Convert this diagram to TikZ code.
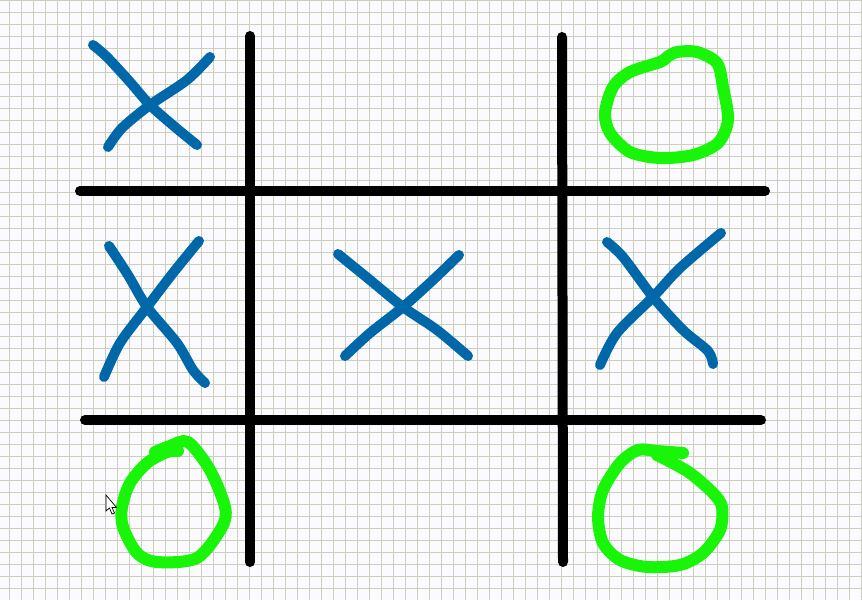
\documentclass[tikz,border=0pt]{standalone}
\definecolor{paperbg}{RGB}{251,251,255}
\definecolor{gridpurple}{RGB}{192,192,236}
\definecolor{gridyellow}{RGB}{214,214,160}
\definecolor{xblue}{RGB}{0,104,168}
\definecolor{ogreen}{RGB}{24,245,8}
\begin{document}
\begin{tikzpicture}[x=1pt,y=-1pt,
  gridA/.style={draw=gridpurple,line width=1pt},
  gridB/.style={draw=gridyellow,line width=1pt,dash pattern=on 1.5pt off 1.5pt},
  board/.style={draw=black,line width=10pt,line cap=round,line join=round},
  xmark/.style={draw=xblue,line width=10pt,line cap=round,line join=round},
  omark/.style={draw=ogreen,line width=12pt,line cap=round,line join=round}]
\useasboundingbox (0,0) rectangle (862,600);
\fill[paperbg] (0,0) rectangle (862,600);
% grid paper
\foreach \i in {0,...,71} {\draw[gridA] ({9+12*\i},0) -- ({9+12*\i},600);}
\foreach \j in {0,...,49} {\draw[gridA] (0,{12*\j}) -- (862,{12*\j});}
\foreach \i in {0,...,71} {\draw[gridB] ({9+12*\i},0) -- ({9+12*\i},600);}
\foreach \j in {0,...,49} {\draw[gridB] (0,{12*\j}) -- (862,{12*\j});}
% board lines
\draw[board] (250,36) -- (250,562);
\draw[board] (562,37) -- (563,562);
\draw[board] (80,191) -- (765,191);
\draw[board] (85,420) -- (761,420);
% X marks
\draw[xmark] plot[smooth] coordinates {(93,45) (107,57) (130,82) (150,105) (175,127) (197,145)};
\draw[xmark] plot[smooth] coordinates {(210,57) (187,80) (150,105) (122,128) (108,147)};
\draw[xmark] plot[smooth] coordinates {(109,246) (128,275) (147,307) (177,343) (193,370) (205,383)};
\draw[xmark] plot[smooth] coordinates {(199,241) (173,273) (147,307) (120,343) (104,377)};
\draw[xmark] plot[smooth] coordinates {(338,254) (370,280) (403,307) (437,330) (468,356)};
\draw[xmark] plot[smooth] coordinates {(459,255) (433,280) (403,307) (370,333) (345,356)};
\draw[xmark] plot[smooth] coordinates {(607,242) (623,257) (653,297) (683,330) (708,351) (713,364)};
\draw[xmark] plot[smooth] coordinates {(721,233) (680,268) (653,297) (617,333) (600,365)};
% O marks
\draw[omark] plot[smooth] coordinates {(667,57) (660,62) (630,72) (613,87) (605,113) (610,133) (630,152) (660,158) (693,155) (718,143) (728,120) (723,87) (717,63) (697,52) (677,52) (667,57)};
\draw[omark] plot[smooth] coordinates {(155,452) (170,446) (188,442) (210,470) (225,507) (222,527) (197,558) (157,562) (137,553) (123,527) (122,507) (130,483) (147,463) (167,452) (178,451)};
\draw[omark] plot[smooth] coordinates {(683,453) (657,451) (638,450) (620,463) (603,490) (598,517) (603,543) (620,560) (647,567) (680,565) (703,553) (720,530) (722,507) (713,493) (690,473) (667,460) (657,455)};
% mouse cursor
\filldraw[fill=white,draw=black,line width=0.7pt,line join=miter]
  (106,495) -- (106,511) -- (109.5,508) -- (112,514) -- (114.5,513) -- (112,507.5) -- (116.5,507.5) -- cycle;
\end{tikzpicture}
\end{document}
